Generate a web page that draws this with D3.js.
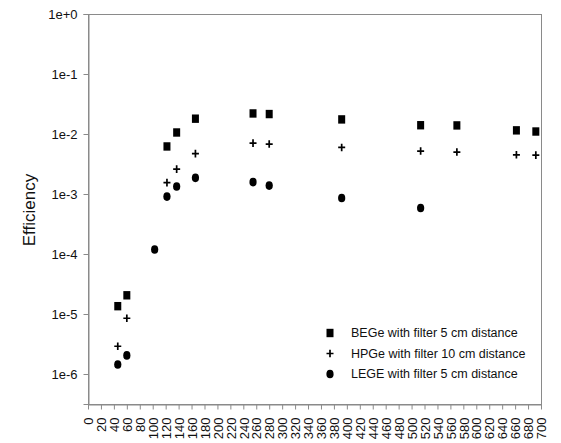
<!DOCTYPE html>
<html lang="en">
    <head>
        <meta charset="utf-8">
        <title>Efficiency</title>
        <script type="text/javascript" src="https://cdn.jsdelivr.net/npm/d3@7"></script>
        <style type="text/css">
            body { margin: 0; background: #fff; }
            text { font-family: "Liberation Sans", Arial, sans-serif; fill: #111; }
        </style>
    </head>

    <body>
        <script type="text/javascript">
            // Energies (keV) and efficiencies
            var begeEnergy = [46, 60, 122, 137, 166, 255, 280, 392, 514, 570, 662, 692];
            var begeEff = [1.35e-5, 2.05e-5, 6.2e-3, 1.06e-2, 1.8e-2, 2.2e-2, 2.15e-2, 1.75e-2, 1.4e-2, 1.39e-2, 1.15e-2, 1.1e-2];

            var hpgeEnergy = [46, 60, 122, 137, 166, 255, 280, 392, 514, 570, 662, 692];
            var hpgeEff = [2.9e-6, 8.5e-6, 1.55e-3, 2.6e-3, 4.7e-3, 7.05e-3, 6.8e-3, 5.97e-3, 5.2e-3, 5.0e-3, 4.5e-3, 4.45e-3];

            var legeEnergy = [46, 60, 103, 122, 137, 166, 255, 280, 392, 514];
            var legeEff = [1.44e-6, 2.04e-6, 1.19e-4, 9.05e-4, 1.33e-3, 1.86e-3, 1.58e-3, 1.38e-3, 8.6e-4, 5.86e-4];

            var yTicks = [1, 1e-1, 1e-2, 1e-3, 1e-4, 1e-5, 1e-6];
            var yTickLabels = ["1e+0", "1e-1", "1e-2", "1e-3", "1e-4", "1e-5", "1e-6"];
            var xTicks = d3.range(0, 701, 20);

            var legendLabels = ["BEGe with filter 5 cm distance",
                                "HPGe with filter 10 cm distance",
                                "LEGE with filter 5 cm distance"];

            var w = 561;
            var h = 443;
            // plot box (avoid "top" - it's window.top)
            var pLeft = 88, pRight = 541, pTop = 14, pBottom = 404;
            var fs = 12.5;

            var svg = d3.select("body")
                        .append("svg")
                        .attr("width", w)
                        .attr("height", h);

            var x = d3.scaleLinear().domain([0, 700]).range([pLeft, pRight]);
            var y = d3.scaleLog().domain([Math.pow(10, -6.5), 1]).range([pBottom, pTop]);

            // frame
            svg.append("rect")
                .attr("x", pLeft + 0.5)
                .attr("y", pTop + 0.5)
                .attr("width", pRight - pLeft)
                .attr("height", pBottom - pTop)
                .attr("fill", "none")
                .attr("stroke", "#8a8a8a")
                .attr("stroke-width", 1);

            // y axis
            var yAxis = d3.axisLeft(y)
                .tickValues(yTicks)
                .tickFormat(function(d, i) { return yTickLabels[i]; })
                .tickSize(5)
                .tickPadding(6);
            var gy = svg.append("g")
                .attr("transform", "translate(" + (pLeft + 0.5) + ",0)")
                .call(yAxis);
            gy.select(".domain").attr("stroke", "#8a8a8a");
            gy.selectAll(".tick line").attr("stroke", "#8a8a8a");
            gy.selectAll(".tick text")
                .attr("font-size", "13px")
                .attr("font-family", "Liberation Sans, Arial, sans-serif")
                .attr("fill", "#111");

            // x axis
            var xAxis = d3.axisBottom(x)
                .tickValues(xTicks)
                .tickFormat(d3.format("d"))
                .tickSize(5)
                .tickSizeOuter(0);
            var gx = svg.append("g")
                .attr("transform", "translate(0," + (pBottom + 0.5) + ")")
                .call(xAxis);
            gx.select(".domain").attr("stroke", "#8a8a8a");
            gx.selectAll(".tick line").attr("stroke", "#8a8a8a");
            gx.selectAll(".tick text")
                .attr("font-size", "13px")
                .attr("font-family", "Liberation Sans, Arial, sans-serif")
                .attr("fill", "#111")
                .attr("text-anchor", "end")
                .attr("transform", "rotate(-90)")
                .attr("x", -13)
                .attr("y", 0)
                .attr("dy", "0.36em");

            // y title
            svg.append("text")
                .attr("transform", "translate(35,210) rotate(-90)")
                .attr("text-anchor", "middle")
                .attr("font-size", "17px")
                .text("Efficiency");

            // BEGe squares
            svg.selectAll("rect.bege")
                .data(d3.zip(begeEnergy, begeEff))
                .enter()
                .append("rect")
                .attr("class", "bege")
                .attr("x", function(d) { return x(d[0]) - 3.5; })
                .attr("y", function(d) { return y(d[1]) - 4.2; })
                .attr("width", 7)
                .attr("height", 8.4)
                .attr("fill", "#000");

            // HPGe pluses
            svg.selectAll("path.hpge")
                .data(d3.zip(hpgeEnergy, hpgeEff))
                .enter()
                .append("path")
                .attr("class", "hpge")
                .attr("d", function(d) {
                    var cx = x(d[0]), cy = y(d[1]);
                    return "M" + (cx - 3.5) + "," + cy + "H" + (cx + 3.5) +
                           "M" + cx + "," + (cy - 3.8) + "V" + (cy + 3.8);
                })
                .attr("stroke", "#000")
                .attr("stroke-width", 1.7)
                .attr("fill", "none");

            // LEGE circles
            svg.selectAll("ellipse.lege")
                .data(d3.zip(legeEnergy, legeEff))
                .enter()
                .append("ellipse")
                .attr("class", "lege")
                .attr("cx", function(d) { return x(d[0]); })
                .attr("cy", function(d) { return y(d[1]); })
                .attr("rx", 3.6)
                .attr("ry", 4.3)
                .attr("fill", "#000");

            // legend
            var lg = svg.append("g").attr("transform", "translate(330,333)");
            var rowGap = 20.5;
            lg.append("rect")
                .attr("x", -3.5).attr("y", -4.2)
                .attr("width", 7).attr("height", 8.4)
                .attr("fill", "#000");
            lg.append("path")
                .attr("d", "M-3.5," + rowGap + "H3.5M0," + (rowGap - 3.8) + "V" + (rowGap + 3.8))
                .attr("stroke", "#000")
                .attr("stroke-width", 1.7);
            lg.append("ellipse")
                .attr("cx", 0).attr("cy", rowGap * 2)
                .attr("rx", 3.6).attr("ry", 4.3)
                .attr("fill", "#000");
            lg.selectAll("text.leg")
                .data(legendLabels)
                .enter()
                .append("text")
                .attr("class", "leg")
                .attr("x", 21)
                .attr("y", function(d, i) { return i * rowGap; })
                .attr("dy", "0.35em")
                .attr("font-size", fs + "px")
                .text(function(d) { return d; });
        </script>
    </body>
</html>
